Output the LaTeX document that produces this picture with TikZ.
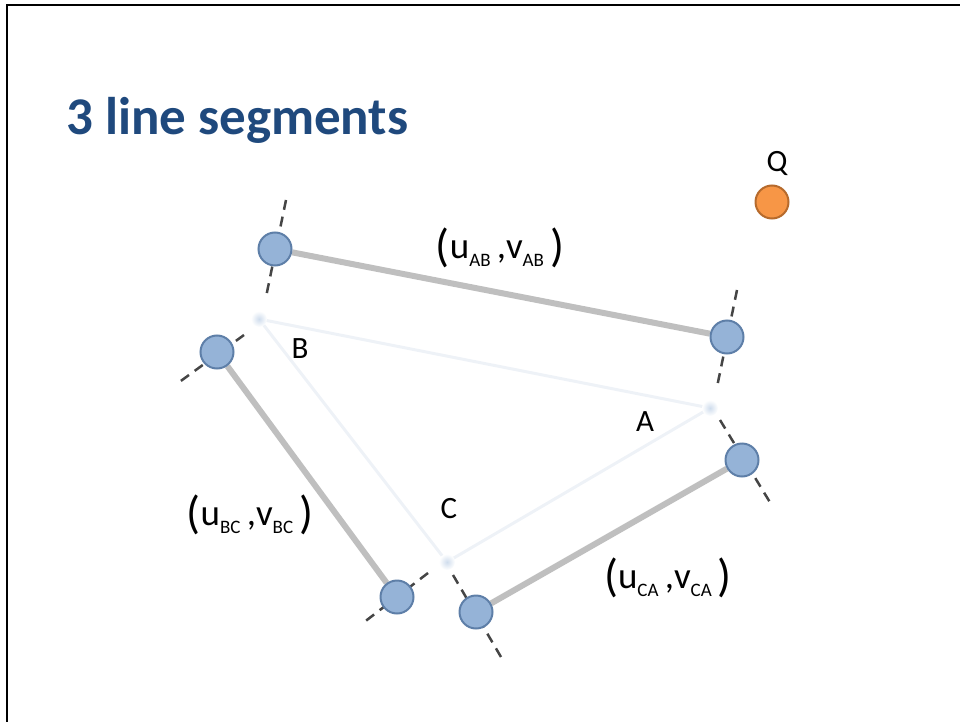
\documentclass[tikz,border=0pt]{standalone}
\usepackage{fontspec}
\setmainfont{Carlito}
\usetikzlibrary{backgrounds}
\definecolor{TitleBlue}{HTML}{1F497D}
\definecolor{PtBlue}{HTML}{95B3D7}
\definecolor{PtEdge}{HTML}{5E7FA8}
\definecolor{QOrange}{HTML}{F79646}
\definecolor{QEdge}{HTML}{B66A2C}
\definecolor{SegGray}{HTML}{BFBFBF}
\definecolor{TriLine}{HTML}{EEF2F7}
\definecolor{DashGray}{HTML}{454545}

\newcommand{\uvpair}[1]{%
  \raisebox{-3pt}{\fontsize{46}{46}\selectfont(}%
  u\raisebox{-8pt}{\fontsize{19}{19}\selectfont#1}\,,%
  v\raisebox{-8pt}{\fontsize{19}{19}\selectfont#1}\,%
  \raisebox{-3pt}{\fontsize{46}{46}\selectfont)}}

\begin{document}
\begin{tikzpicture}[
    x=1pt, y=-1pt,
    pt/.style={
      circle,
      draw=PtEdge,
      fill=PtBlue,
      line width=2pt,
      minimum size=33pt,
      inner sep=0pt
    },
    qpt/.style={
      pt,
      draw=QEdge,
      fill=QOrange
    },
    vlabel/.style={
      font=\fontsize{31}{31}\selectfont
    },
    uvlabel/.style={
      font=\fontsize{37}{37}\selectfont,
      inner sep=0pt
    },
    seg/.style={
      line width=6pt,
      color=SegGray
    },
    tri/.style={
      line width=3pt,
      color=TriLine
    },
    perp/.style={
      line width=2.5pt,
      color=DashGray,
      dash pattern=on 10pt off 7pt
    }
  ]
  \useasboundingbox (0,0) rectangle (960,722);

  % slide frame
  \draw[line width=2pt] (6.5,722) -- (6.5,5.5) -- (960,5.5);

  % title
  \node[anchor=base west, inner sep=0pt, text=TitleBlue,
        font=\fontsize{53}{53}\selectfont\bfseries] (title) at (66,135) {3 line segments};

  % triangle vertices
  \coordinate (a) at (710,408);
  \coordinate (b) at (259,319);
  \coordinate (c) at (447,562);

  % segment end points
  \node[pt] (ab1) at (275,249) {};
  \node[pt] (ab2) at (727,337) {};
  \node[pt] (bc1) at (217,352) {};
  \node[pt] (bc2) at (397,597) {};
  \node[pt] (ca1) at (476,612) {};
  \node[pt] (ca2) at (742,460) {};

  % query point
  \node[qpt] (q) at (772,202) {};
  \node[vlabel] (qlab) at (777,163) {Q};

  % vertex labels
  \node[vlabel] (alab) at (645,422) {A};
  \node[vlabel] (blab) at (300,349) {B};
  \node[vlabel] (clab) at (449,509) {C};

  % segment labels
  \node[uvlabel] (ablab) at (500,248) {\uvpair{AB}};
  \node[uvlabel] (bclab) at (250,515) {\uvpair{BC}};
  \node[uvlabel] (calab) at (668,578) {\uvpair{CA}};

  % dashed normals
  \coordinate (ab1t) at (286,200);
  \coordinate (ab1b) at (266,297);
  \coordinate (ab2t) at (737,290);
  \coordinate (ab2b) at (717,387);
  \coordinate (bc1t) at (244,335);
  \coordinate (bc1b) at (178,383);
  \coordinate (bc2t) at (428,573);
  \coordinate (bc2b) at (363,623);
  \coordinate (ca1t) at (453,575);
  \coordinate (ca1b) at (501,657);
  \coordinate (ca2t) at (720,420);
  \coordinate (ca2b) at (771,504);

  \begin{scope}[on background layer]
    \draw[tri] (a) -- (b) -- (c) -- cycle;
    \foreach \v in {a,b,c}
      \shade[inner color=PtBlue!45, outer color=white] (\v) circle (8pt);
    \draw[perp] (ab1t) -- (ab1b);
    \draw[perp] (ab2t) -- (ab2b);
    \draw[perp] (bc1t) -- (bc1b);
    \draw[perp] (bc2t) -- (bc2b);
    \draw[perp] (ca1t) -- (ca1b);
    \draw[perp] (ca2t) -- (ca2b);
    \draw[seg] (ab1) -- (ab2);
    \draw[seg] (bc1) -- (bc2);
    \draw[seg] (ca1) -- (ca2);
  \end{scope}

\end{tikzpicture}
\end{document}
